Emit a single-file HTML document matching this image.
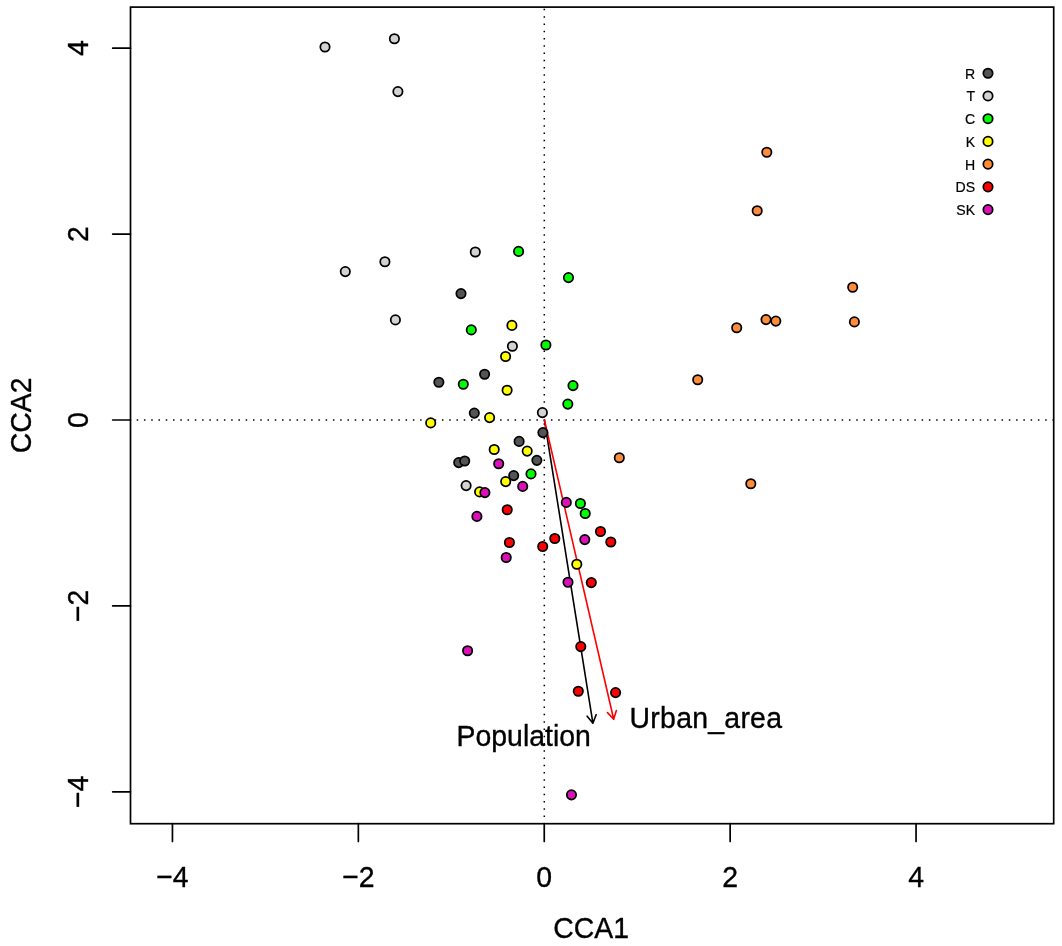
<!DOCTYPE html>
<html lang="en">
<head>
<meta charset="utf-8">
<title>CCA ordination plot</title>
<style>
html,body{margin:0;padding:0;background:#ffffff;}
body{width:1062px;height:946px;overflow:hidden;font-family:"Liberation Sans",sans-serif;}
svg text{font-family:"Liberation Sans",sans-serif;}
</style>
</head>
<body>
<svg width="1062" height="946" viewBox="0 0 1062 946" style="display:block;will-change:transform">
<rect x="0" y="0" width="1062" height="946" fill="#ffffff"/>
<g stroke="#000" stroke-width="1.5" stroke-dasharray="1.5 5.768" fill="none">
<line x1="130.5" y1="420.05" x2="1053.7" y2="420.05" stroke-dashoffset="-6.18"/>
<line x1="544.3" y1="823.7" x2="544.3" y2="7.1" stroke-dashoffset="-6.59"/>
</g>
<path d="M544.40 420.00L592.90 723.20M596.15 714.70L592.90 723.20L587.16 716.14" fill="none" stroke="#000000" stroke-width="1.6" stroke-linecap="round" stroke-linejoin="round"/>
<path d="M544.40 420.00L613.70 719.30M616.36 710.60L613.70 719.30L607.49 712.65" fill="none" stroke="#ff0000" stroke-width="1.6" stroke-linecap="round" stroke-linejoin="round"/>
<g stroke="#000" stroke-width="1.75">
<circle cx="461.0" cy="293.6" r="4.68" fill="#545454"/>
<circle cx="484.6" cy="374.3" r="4.68" fill="#545454"/>
<circle cx="438.85" cy="382.3" r="4.68" fill="#545454"/>
<circle cx="474.3" cy="413.1" r="4.68" fill="#545454"/>
<circle cx="542.9" cy="432.6" r="4.68" fill="#545454"/>
<circle cx="519.1" cy="441.4" r="4.68" fill="#545454"/>
<circle cx="536.85" cy="460.35" r="4.68" fill="#545454"/>
<circle cx="458.7" cy="462.6" r="4.68" fill="#545454"/>
<circle cx="464.7" cy="461.0" r="4.68" fill="#545454"/>
<circle cx="513.7" cy="475.6" r="4.68" fill="#545454"/>
<circle cx="325.0" cy="47.0" r="4.68" fill="#d3d3d3"/>
<circle cx="394.4" cy="38.8" r="4.68" fill="#d3d3d3"/>
<circle cx="397.9" cy="91.6" r="4.68" fill="#d3d3d3"/>
<circle cx="345.3" cy="271.6" r="4.68" fill="#d3d3d3"/>
<circle cx="384.9" cy="261.8" r="4.68" fill="#d3d3d3"/>
<circle cx="475.3" cy="252.0" r="4.68" fill="#d3d3d3"/>
<circle cx="395.4" cy="319.9" r="4.68" fill="#d3d3d3"/>
<circle cx="512.4" cy="346.2" r="4.68" fill="#d3d3d3"/>
<circle cx="542.4" cy="412.6" r="4.68" fill="#d3d3d3"/>
<circle cx="466.1" cy="485.6" r="4.68" fill="#d3d3d3"/>
<circle cx="518.6" cy="251.4" r="4.68" fill="#00ff00"/>
<circle cx="568.5" cy="277.6" r="4.68" fill="#00ff00"/>
<circle cx="471.3" cy="329.9" r="4.68" fill="#00ff00"/>
<circle cx="545.9" cy="345.0" r="4.68" fill="#00ff00"/>
<circle cx="463.3" cy="384.3" r="4.68" fill="#00ff00"/>
<circle cx="573.0" cy="385.6" r="4.68" fill="#00ff00"/>
<circle cx="567.8" cy="404.1" r="4.68" fill="#00ff00"/>
<circle cx="531.0" cy="473.9" r="4.68" fill="#00ff00"/>
<circle cx="580.4" cy="503.5" r="4.68" fill="#00ff00"/>
<circle cx="585.2" cy="513.5" r="4.68" fill="#00ff00"/>
<circle cx="511.9" cy="325.4" r="4.68" fill="#ffff00"/>
<circle cx="505.6" cy="356.5" r="4.68" fill="#ffff00"/>
<circle cx="507.1" cy="390.3" r="4.68" fill="#ffff00"/>
<circle cx="489.6" cy="417.6" r="4.68" fill="#ffff00"/>
<circle cx="430.7" cy="422.9" r="4.68" fill="#ffff00"/>
<circle cx="494.2" cy="449.5" r="4.68" fill="#ffff00"/>
<circle cx="527.2" cy="451.1" r="4.68" fill="#ffff00"/>
<circle cx="505.7" cy="481.6" r="4.68" fill="#ffff00"/>
<circle cx="479.6" cy="491.9" r="4.68" fill="#ffff00"/>
<circle cx="576.8" cy="564.3" r="4.68" fill="#ffff00"/>
<circle cx="766.8" cy="152.3" r="4.68" fill="#ff8c3a"/>
<circle cx="757.2" cy="210.7" r="4.68" fill="#ff8c3a"/>
<circle cx="852.7" cy="287.3" r="4.68" fill="#ff8c3a"/>
<circle cx="854.4" cy="321.9" r="4.68" fill="#ff8c3a"/>
<circle cx="766.0" cy="319.6" r="4.68" fill="#ff8c3a"/>
<circle cx="775.8" cy="321.1" r="4.68" fill="#ff8c3a"/>
<circle cx="736.7" cy="327.7" r="4.68" fill="#ff8c3a"/>
<circle cx="697.7" cy="379.8" r="4.68" fill="#ff8c3a"/>
<circle cx="619.3" cy="457.7" r="4.68" fill="#ff8c3a"/>
<circle cx="750.8" cy="483.8" r="4.68" fill="#ff8c3a"/>
<circle cx="507.2" cy="509.7" r="4.68" fill="#ff0000"/>
<circle cx="600.5" cy="531.5" r="4.68" fill="#ff0000"/>
<circle cx="610.8" cy="542.0" r="4.68" fill="#ff0000"/>
<circle cx="554.8" cy="538.5" r="4.68" fill="#ff0000"/>
<circle cx="542.7" cy="546.5" r="4.68" fill="#ff0000"/>
<circle cx="509.4" cy="542.5" r="4.68" fill="#ff0000"/>
<circle cx="591.3" cy="582.6" r="4.68" fill="#ff0000"/>
<circle cx="580.8" cy="646.6" r="4.68" fill="#ff0000"/>
<circle cx="578.3" cy="691.2" r="4.68" fill="#ff0000"/>
<circle cx="615.6" cy="692.6" r="4.68" fill="#ff0000"/>
<circle cx="498.7" cy="463.7" r="4.68" fill="#dc10b8"/>
<circle cx="522.7" cy="486.4" r="4.68" fill="#dc10b8"/>
<circle cx="484.9" cy="492.6" r="4.68" fill="#dc10b8"/>
<circle cx="566.3" cy="502.4" r="4.68" fill="#dc10b8"/>
<circle cx="476.9" cy="516.4" r="4.68" fill="#dc10b8"/>
<circle cx="584.8" cy="539.6" r="4.68" fill="#dc10b8"/>
<circle cx="506.2" cy="557.5" r="4.68" fill="#dc10b8"/>
<circle cx="568.0" cy="582.3" r="4.68" fill="#dc10b8"/>
<circle cx="467.6" cy="650.7" r="4.68" fill="#dc10b8"/>
<circle cx="571.45" cy="794.85" r="4.68" fill="#dc10b8"/>
</g>
<g stroke="#000" stroke-width="1.7" fill="none" stroke-linecap="round">
<rect x="130.5" y="7.1" width="923.2" height="816.6"/>
<line x1="172.45" y1="823.7" x2="172.45" y2="841.5"/>
<line x1="130.5" y1="791.80" x2="112.7" y2="791.80"/>
<line x1="358.35" y1="823.7" x2="358.35" y2="841.5"/>
<line x1="130.5" y1="605.90" x2="112.7" y2="605.90"/>
<line x1="544.25" y1="823.7" x2="544.25" y2="841.5"/>
<line x1="130.5" y1="420.00" x2="112.7" y2="420.00"/>
<line x1="730.15" y1="823.7" x2="730.15" y2="841.5"/>
<line x1="130.5" y1="234.10" x2="112.7" y2="234.10"/>
<line x1="916.05" y1="823.7" x2="916.05" y2="841.5"/>
<line x1="130.5" y1="48.20" x2="112.7" y2="48.20"/>
</g>
<g font-family="'Liberation Sans', sans-serif" font-size="28.4" fill="#000" stroke="#000" stroke-width="0.35" stroke-linejoin="round">
<text transform="translate(172.45 886.50) scale(1 1.07)" text-anchor="middle">−4</text>
<text transform="translate(88.40 791.80) rotate(-90) scale(1 1.07)" text-anchor="middle">−4</text>
<text transform="translate(358.35 886.50) scale(1 1.07)" text-anchor="middle">−2</text>
<text transform="translate(88.40 605.90) rotate(-90) scale(1 1.07)" text-anchor="middle">−2</text>
<text transform="translate(544.25 886.50) scale(1 1.07)" text-anchor="middle">0</text>
<text transform="translate(88.40 420.00) rotate(-90) scale(1 1.07)" text-anchor="middle">0</text>
<text transform="translate(730.15 886.50) scale(1 1.07)" text-anchor="middle">2</text>
<text transform="translate(88.40 234.10) rotate(-90) scale(1 1.07)" text-anchor="middle">2</text>
<text transform="translate(916.05 886.50) scale(1 1.07)" text-anchor="middle">4</text>
<text transform="translate(88.40 48.20) rotate(-90) scale(1 1.07)" text-anchor="middle">4</text>
<text transform="translate(591.20 938.10) scale(1 1.07)" text-anchor="middle">CCA1</text>
<text transform="translate(30.90 415.40) rotate(-90) scale(1 1.07)" text-anchor="middle">CCA2</text>
<text transform="translate(456.60 746.00) scale(1 1.02)" text-anchor="start">Population</text>
<text transform="translate(629.60 727.80) scale(1 1.02)" text-anchor="start" letter-spacing="0.27">Urban_area</text>
</g>
<g font-family="'Liberation Sans', sans-serif" font-size="14.1" fill="#000" stroke="#000" stroke-width="0.2" stroke-linejoin="round">
<text transform="translate(975.10 78.55) scale(1 1.07)" text-anchor="end">R</text>
<text transform="translate(975.10 101.29) scale(1 1.07)" text-anchor="end">T</text>
<text transform="translate(975.10 124.03) scale(1 1.07)" text-anchor="end">C</text>
<text transform="translate(975.10 146.77) scale(1 1.07)" text-anchor="end">K</text>
<text transform="translate(975.10 169.51) scale(1 1.07)" text-anchor="end">H</text>
<text transform="translate(975.10 192.25) scale(1 1.07)" text-anchor="end">DS</text>
<text transform="translate(975.10 214.99) scale(1 1.07)" text-anchor="end">SK</text>
</g>
<g stroke="#000" stroke-width="1.75">
<circle cx="988.0" cy="73.20" r="4.68" fill="#545454"/>
<circle cx="988.0" cy="95.94" r="4.68" fill="#d3d3d3"/>
<circle cx="988.0" cy="118.68" r="4.68" fill="#00ff00"/>
<circle cx="988.0" cy="141.42" r="4.68" fill="#ffff00"/>
<circle cx="988.0" cy="164.16" r="4.68" fill="#ff8c3a"/>
<circle cx="988.0" cy="186.90" r="4.68" fill="#ff0000"/>
<circle cx="988.0" cy="209.64" r="4.68" fill="#dc10b8"/>
</g>
</svg>
</body>
</html>
